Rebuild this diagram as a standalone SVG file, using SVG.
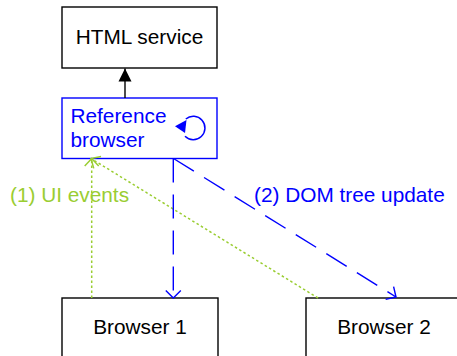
<svg xmlns="http://www.w3.org/2000/svg" width="457" height="356" viewBox="0 0 457 356">
<style>
text{font-family:"Liberation Sans",Arial,sans-serif;font-size:20.8px}
.box{fill:#fff;stroke:#000;stroke-width:1.4}
.bbox{fill:#fff;stroke:#0000ff;stroke-width:1.4}
.blk{fill:#000}
.blu{fill:#0000ff}
.grn{fill:#9acd32}
.solid{stroke:#000;stroke-width:1.4;fill:none}
.dash{stroke:#0000ff;stroke-width:1.4;fill:none;stroke-dasharray:24 12}
.dot{stroke:#9acd32;stroke-width:1.5;fill:none;stroke-dasharray:2.5 2.5}
</style>
<defs>
<marker id="fillBlack" viewBox="-14 -8 16 16" markerWidth="16" markerHeight="16" refX="0" refY="0" orient="auto" markerUnits="userSpaceOnUse">
<path d="M0 0 L-13 -6.5 L-13 6.5 Z" fill="#000"/>
</marker>
<marker id="openBlue" viewBox="-10 -10 20 20" markerWidth="20" markerHeight="20" refX="0" refY="0" orient="auto" markerUnits="userSpaceOnUse">
<path d="M-7.5 -7.5 L0 0 L-7.5 7.5" fill="none" stroke="#0000ff" stroke-width="1.4"/>
</marker>
<marker id="openGreen" viewBox="-10 -10 20 20" markerWidth="20" markerHeight="20" refX="0" refY="0" orient="auto" markerUnits="userSpaceOnUse">
<path d="M-7.5 -7 L0 0 L-7.5 7" fill="none" stroke="#9acd32" stroke-width="1.5"/>
</marker>
</defs>

<g id="html-service">
<rect class="box" x="62" y="7" width="155" height="61"/>
<text class="blk" x="139.5" y="44.4" text-anchor="middle">HTML service</text>
</g>

<g id="reference-browser">
<rect class="bbox" x="62" y="98" width="155" height="60.5"/>
<text class="blu" x="70.5" y="123">Reference</text>
<text class="blu" x="70.5" y="147">browser</text>
<path d="M185 136.3 A11.7 11.7 0 1 0 185.8 119" fill="none" stroke="#0000ff" stroke-width="1.5"/>
<path d="M175 126.3 L186.5 120 L185 133 Z" fill="#0000ff"/>
</g>

<g id="browser-1">
<rect class="box" x="62" y="298" width="156" height="70"/>
<text class="blk" x="140" y="334" text-anchor="middle">Browser 1</text>
</g>

<g id="browser-2">
<rect class="box" x="306" y="298" width="160" height="70"/>
<text class="blk" x="384" y="334" text-anchor="middle">Browser 2</text>
</g>

<g id="connectors">
<line class="solid" x1="125" y1="98" x2="125" y2="68.5" marker-end="url(#fillBlack)"/>
<line class="dot" x1="91.7" y1="298" x2="91.7" y2="158.5" marker-end="url(#openGreen)"/>
<line class="dot" x1="318" y1="298" x2="91" y2="158.5" marker-end="url(#openGreen)"/>
<line class="dash" x1="173.3" y1="158.5" x2="173.3" y2="298" marker-end="url(#openBlue)"/>
<line class="dash" x1="173.5" y1="158.5" x2="396" y2="297" marker-end="url(#openBlue)"/>
<text class="grn" x="10" y="201.7">(1) UI events</text>
<text class="blu" x="254" y="201.7">(2) DOM tree update</text>
</g>
</svg>
